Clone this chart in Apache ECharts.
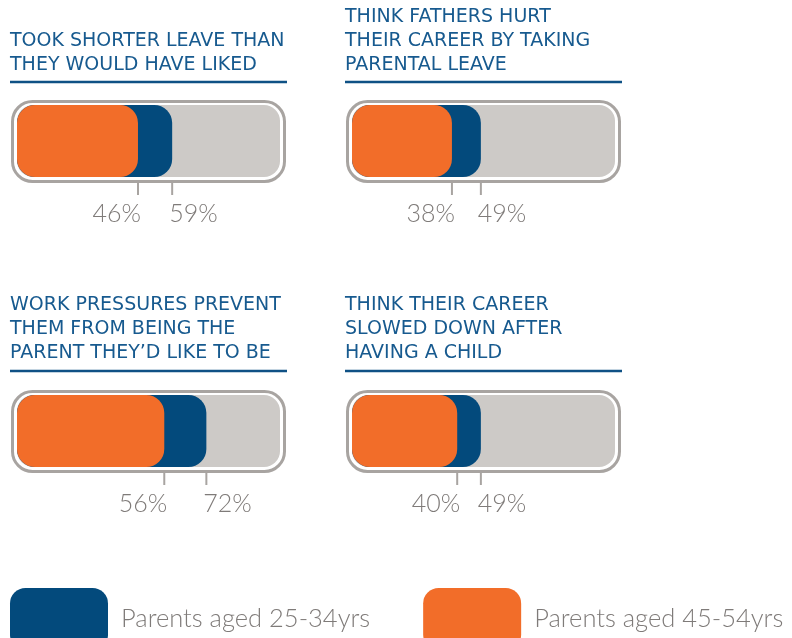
<!DOCTYPE html>
<html>
<head>
<meta charset="utf-8">
<script src="https://cdn.jsdelivr.net/npm/echarts@6/dist/echarts.min.js"></script>
<style>html,body{margin:0;padding:0;background:#fff}#c{width:792px;height:638px}</style>
</head>
<body>
<div id="c"></div>
<script>
// ---- data ----
const titles = [
  'TOOK SHORTER LEAVE THAN\nTHEY WOULD HAVE LIKED',
  'THINK FATHERS HURT\nTHEIR CAREER BY TAKING\nPARENTAL LEAVE',
  'WORK PRESSURES PREVENT\nTHEM FROM BEING THE\nPARENT THEY\u2019D LIKE TO BE',
  'THINK THEIR CAREER\nSLOWED DOWN AFTER\nHAVING A CHILD'
];
const seriesNames = ['Parents aged 25-34yrs', 'Parents aged 45-54yrs'];
const young = [59, 49, 72, 49];   // Parents aged 25-34yrs
const older = [46, 38, 56, 40];   // Parents aged 45-54yrs

// ---- style / layout ----
const BLUE = '#034a7c', ORANGE = '#f26d29', TRACK = '#cdcac7', FRAME = '#a8a4a1';
const TITLE_BLUE = '#175a8f', LABEL = '#7f7b79';
const FONT = '"DejaVu Sans", sans-serif';
const LIGHT = 'Lato, "Open Sans", sans-serif';
const panels = [
  {x: 17, y: 105, titleTop: 29, lineY: 82},
  {x: 352, y: 105, titleTop: 5, lineY: 82},
  {x: 17, y: 395, titleTop: 293, lineY: 371},
  {x: 352, y: 395, titleTop: 293, lineY: 371}
];
const TW = 263, TH = 72;

const chart = echarts.init(document.getElementById('c'), null, {renderer: 'canvas'});

const grid = [], xAxis = [], yAxis = [], series = [], title = [], graphic = [];
panels.forEach((p, i) => {
  grid.push({left: p.x, top: p.y, width: TW, height: TH, containLabel: false});
  xAxis.push({type: 'value', gridIndex: i, min: 0, max: 100, show: false});
  yAxis.push({type: 'category', gridIndex: i, data: ['v'], show: false});
  title.push({
    text: titles[i], left: p.x - 7, top: p.titleTop, padding: 0,
    textStyle: {fontFamily: FONT, fontSize: 19, fontWeight: 'normal', color: TITLE_BLUE, lineHeight: 24}
  });
  graphic.push({
    type: 'line', shape: {x1: p.x - 7, y1: p.lineY, x2: p.x + TW + 7, y2: p.lineY},
    style: {stroke: '#0f5185', lineWidth: 2.5}
  });
  series.push({
    name: seriesNames[0], type: 'bar', xAxisIndex: i, yAxisIndex: i,
    data: [young[i]], barWidth: TH, barGap: '-100%',
    itemStyle: {color: BLUE, borderRadius: 18},
    showBackground: true,
    backgroundStyle: {color: TRACK, borderRadius: 16},
    silent: true, z: 2
  });
  series.push({
    name: seriesNames[1], type: 'bar', xAxisIndex: i, yAxisIndex: i,
    data: [older[i]], barWidth: TH, barGap: '-100%',
    itemStyle: {color: ORANGE, borderRadius: 18},
    silent: true, z: 3
  });
  // frame + ticks + value labels, positioned through the axis scale
  series.push({
    type: 'custom', xAxisIndex: i, yAxisIndex: i, silent: true, z: 4,
    data: [[older[i], 0], [young[i], 0]],
    encode: {x: 0, y: 1},
    renderItem: function (params, api) {
      const v = api.value(0);
      const isOlder = params.dataIndex === 0;
      const pt = api.coord([v, 0]);
      const band = api.size([0, 1])[1];
      const bottom = pt[1] + band / 2;
      const children = [
        {type: 'line', shape: {x1: pt[0], y1: bottom + 5, x2: pt[0], y2: bottom + 18},
         style: {stroke: FRAME, lineWidth: 2}},
        {type: 'text', style: {
          text: v + '%', x: isOlder ? pt[0] + 3 : pt[0] - 3, y: bottom + 37,
          align: isOlder ? 'right' : 'left', verticalAlign: 'middle',
          font: '300 25px ' + LIGHT, fill: LABEL}}
      ];
      if (isOlder) {
        const a = api.coord([0, 0]), b = api.coord([100, 0]);
        children.unshift({type: 'rect',
          shape: {x: a[0] - 4.5, y: a[1] - band / 2 - 3.5, width: b[0] - a[0] + 9, height: band + 8, r: 20},
          style: {fill: 'none', stroke: FRAME, lineWidth: 3}});
      }
      return {type: 'group', children: children};
    }
  });
});

chart.setOption({
  animation: false,
  title: title,
  grid: grid, xAxis: xAxis, yAxis: yAxis,
  legend: {
    data: seriesNames, left: 10, top: 588, width: 782, padding: 0,
    itemWidth: 98, itemHeight: 62, itemGap: 53,
    icon: 'roundRect', selectedMode: false,
    textStyle: {fontFamily: LIGHT, fontWeight: 300, fontSize: 25.5, color: LABEL, padding: [0, 0, 0, 8]}
  },
  graphic: graphic,
  series: series
});
</script>
</body>
</html>
